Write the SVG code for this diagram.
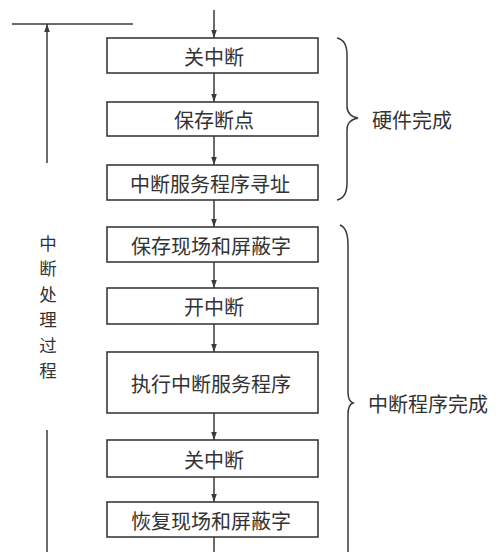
<svg xmlns="http://www.w3.org/2000/svg" width="500" height="552" viewBox="0 0 500 552">
<style>
.box{fill:#fff;stroke:#3a3a3a;stroke-width:1.6}
.t{font-family:"Noto Sans CJK SC","Noto Sans",sans-serif;font-size:20px;fill:#333;text-anchor:middle;dominant-baseline:central}
.v{font-size:17.5px}
.ln{stroke:#3a3a3a;stroke-width:1.5;fill:none}
</style>
<defs>
<marker id="ah" viewBox="0 0 10 10" refX="10" refY="5" markerWidth="10" markerHeight="8" markerUnits="userSpaceOnUse" orient="auto">
<path d="M0,1.5 L10,5 L0,8.5 Z" fill="#3a3a3a"/>
</marker>
</defs>
<rect width="500" height="552" fill="#fff"/>
<g id="connectors">
<line class="ln" x1="214" y1="10" x2="214" y2="38" marker-end="url(#ah)"/>
<line class="ln" x1="214" y1="73" x2="214" y2="102" marker-end="url(#ah)"/>
<line class="ln" x1="214" y1="136" x2="214" y2="165" marker-end="url(#ah)"/>
<line class="ln" x1="214" y1="200" x2="214" y2="227" marker-end="url(#ah)"/>
<line class="ln" x1="214" y1="262" x2="214" y2="288" marker-end="url(#ah)"/>
<line class="ln" x1="214" y1="324" x2="214" y2="352" marker-end="url(#ah)"/>
<line class="ln" x1="214" y1="413" x2="214" y2="440" marker-end="url(#ah)"/>
<line class="ln" x1="214" y1="477" x2="214" y2="502" marker-end="url(#ah)"/>
<line class="ln" x1="214" y1="537" x2="214" y2="552"/>
</g>
<g id="n1"><rect class="box" x="107" y="38" width="211" height="35"/><text class="t" x="214" y="56">关中断</text></g>
<g id="n2"><rect class="box" x="107" y="102" width="211" height="34"/><text class="t" x="214" y="119">保存断点</text></g>
<g id="n3"><rect class="box" x="107" y="165" width="211" height="35"/><text class="t" x="210" y="183">中断服务程序寻址</text></g>
<g id="n4"><rect class="box" x="107" y="227" width="211" height="35"/><text class="t" x="211" y="245">保存现场和屏蔽字</text></g>
<g id="n5"><rect class="box" x="107" y="288" width="211" height="36"/><text class="t" x="214" y="306">开中断</text></g>
<g id="n6"><rect class="box" x="107" y="352" width="211" height="61"/><text class="t" x="211" y="383">执行中断服务程序</text></g>
<g id="n7"><rect class="box" x="107" y="440" width="211" height="37"/><text class="t" x="214" y="459">关中断</text></g>
<g id="n8"><rect class="box" x="107" y="502" width="211" height="35"/><text class="t" x="211" y="520">恢复现场和屏蔽字</text></g>
<g id="brace-hw">
<path class="ln" d="M337,38 Q347,40 347,55 L347,106 Q347,116 358,118 Q347,120 347,130 L347,183 Q347,198 337,200"/>
<text class="t" x="412" y="119">硬件完成</text>
</g>
<g id="brace-sw">
<path class="ln" d="M340,225 Q348,228 348,245 L348,392 Q348,401 353,403 Q348,405 348,414 L348,552"/>
<text class="t" x="428" y="403">中断程序完成</text>
</g>
<g id="process">
<line class="ln" x1="12" y1="24" x2="133" y2="24"/>
<line class="ln" x1="47" y1="163" x2="47" y2="24" marker-end="url(#ah)"/>
<line class="ln" x1="47" y1="430" x2="47" y2="552"/>
<text class="t v" x="48" y="242">中</text>
<text class="t v" x="48" y="267.5">断</text>
<text class="t v" x="48" y="293">处</text>
<text class="t v" x="48" y="318.5">理</text>
<text class="t v" x="48" y="344">过</text>
<text class="t v" x="48" y="369.5">程</text>
</g>
</svg>
